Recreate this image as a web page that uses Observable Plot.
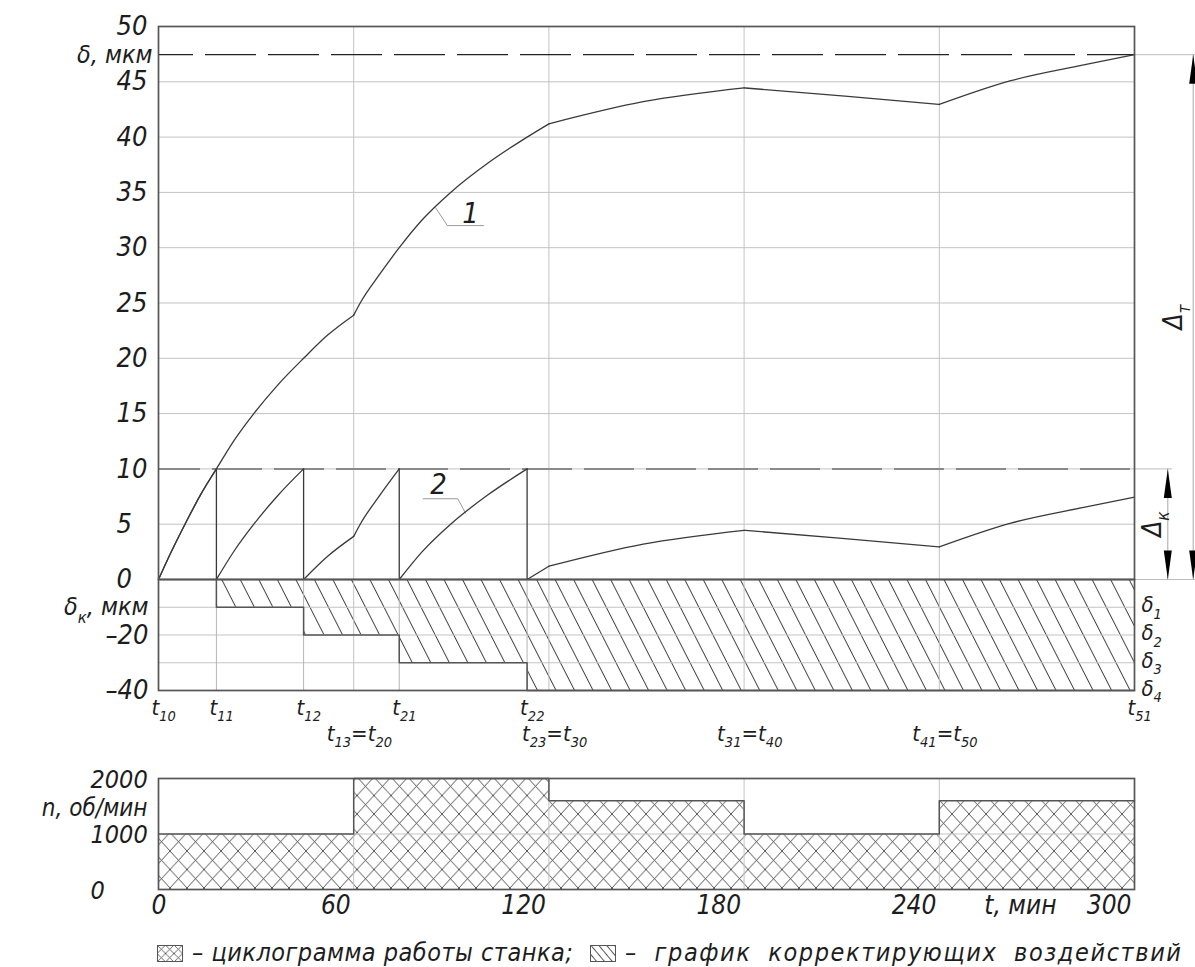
<!DOCTYPE html>
<html><head><meta charset="utf-8">
<script src="https://cdn.jsdelivr.net/npm/d3@7"></script>
<script src="https://cdn.jsdelivr.net/npm/@observablehq/plot@0.6"></script>
<style>
body{margin:0;background:#fff}
#wrap{position:relative;width:1195px;height:967px;overflow:hidden;font-family:"DejaVu Sans Condensed","DejaVu Sans",sans-serif;font-style:italic;font-stretch:condensed;color:#1d1d1d}
.leg{position:absolute;top:940px;height:26px;line-height:26px;display:flex;align-items:center;font-size:25px;white-space:nowrap}
.leg svg{margin-right:9px;flex:none}
#leg1 span{letter-spacing:0.5px}
#leg2 span{letter-spacing:1.6px;word-spacing:8px}
</style></head>
<body><div id="wrap">
<svg width="0" height="0" style="position:absolute">
 <defs>
  <pattern id="hatch1" patternUnits="userSpaceOnUse" width="16.5" height="10" patternTransform="rotate(-27)">
   <line x1="0.5" y1="-1" x2="0.5" y2="11" stroke="#444" stroke-width="1"/>
  </pattern>
  <pattern id="cross1" patternUnits="userSpaceOnUse" width="17" height="18.5">
   <path d="M0,0L17,18.5M17,0L0,18.5M-2,-2L0,0M17,18.5L19,20.5" stroke="#444" stroke-width="0.9" fill="none"/>
  </pattern>
  <pattern id="hatchIcon" patternUnits="userSpaceOnUse" width="6" height="6" patternTransform="rotate(-40)">
   <line x1="0.5" y1="-1" x2="0.5" y2="7" stroke="#444" stroke-width="0.9"/>
  </pattern>
  <pattern id="crossIcon" patternUnits="userSpaceOnUse" width="8.5" height="8.5">
   <path d="M0,0L8.5,8.5M8.5,0L0,8.5" stroke="#444" stroke-width="0.8" fill="none"/>
  </pattern>
 </defs>
</svg>
</div>
<script>
// ---------- data ----------
const tEnd = 300;
const upperTicks = [0, 5, 10, 15, 20, 25, 30, 35, 40, 45, 50];
const gridT = [60, 120, 180, 240];
const deltaMax = 47.45;   // δ max (dashed line)
const deltaK = 10;        // correction threshold (dashed line)

// curve 1: total error δ(t), smooth pieces between the speed changes
const curve1T = [0, 4, 8.5, 13, 17.8, 23.3, 29.3, 36.7, 44.6, 52, 60,
                 60, 62, 68, 74, 81, 89.8, 101.5, 113.3, 120,
                 120, 149, 180,
                 180, 211, 240,
                 240, 262, 284, 300];
const curve1V = [0, 2.55, 5.2, 7.7, 10, 12.6, 15, 17.6, 20, 22.1, 23.9,
                 23.9, 25, 27.6, 30, 32.5, 35, 37.7, 40, 41.2,
                 41.2, 43.2, 44.45,
                 44.45, 43.7, 42.95,
                 42.95, 45.1, 46.5, 47.45];
const curve1Seg = [1,1,1,1,1,1,1,1,1,1,1, 2,2,2,2,2,2,2,2,2, 3,3,3, 4,4,4, 5,5,5,5];

// curve 2: error with corrections
const curve2T = [0, 4, 8.5, 13, 17.8,
                 17.8, 23.3, 29.3, 36.7, 44.6,
                 44.6, 52, 60,
                 60, 62, 68, 74,
                 74, 81, 89.8, 101.5, 113.3,
                 113.3, 120,
                 120, 149, 180,
                 180, 211, 240,
                 240, 262, 284, 300];
const curve2V = [0, 2.55, 5.2, 7.7, 10,
                 0, 2.6, 5, 7.6, 10,
                 0, 2.1, 3.9,
                 3.9, 5, 7.6, 10,
                 0, 2.5, 5, 7.7, 10,
                 0, 1.2,
                 1.2, 3.2, 4.45,
                 4.45, 3.7, 2.95,
                 2.95, 5.1, 6.5, 7.45];
const curve2Seg = [1,1,1,1,1, 2,2,2,2,2, 3,3,3, 4,4,4,4, 5,5,5,5,5, 6,6, 7,7,7, 8,8,8, 9,9,9,9];
const resetT = [17.8, 44.6, 74, 113.3];

// curve labels with leaders
const leader1T = [85.2, 88.8, 99.9], leader1V = [33.6, 32.0, 32.0];
const leader2T = [94.4, 92.0, 81.4], leader2V = [6.0, 7.3, 7.3];
const curveLabels = ["1", "2"], curveLabelT = [95.9, 86.1], curveLabelV = [33.1, 8.6];

// corrections δк(t)
const corrT = [17.8, 17.8, 44.6, 74, 113.3, 300];
const corrV = [0, -10, -20, -30, -40, -40];
const corrGrid = [-10, -20, -30];
const corrTicks = [-20, -40];
const dLevels = [-10, -20, -30, -40];
const dLabels = ["δ_{1}", "δ_{2}", "δ_{3}", "δ_{4}"];

// moment labels
const tUpperT = [0, 17.8, 44.6, 74, 113.3, 300];
const tUpperLabels = ["t_{10}", "t_{11}", "t_{12}", "t_{21}", "t_{22}", "t_{51}"];
const tLowerT = [60, 120, 180, 240];
const tLowerLabels = ["t_{13}=t_{20}", "t_{23}=t_{30}", "t_{31}=t_{40}", "t_{41}=t_{50}"];

// spindle speed n(t)
const nStart = [0, 60, 120, 180, 240];
const nEnd = [60, 120, 180, 240, 300];
const nVal = [1000, 2000, 1600, 1000, 1600];
const nTicks = [0, 1000, 2000];
const timeTicks = [0, 60, 120, 180, 240, 300];

// texts
const yLabelUpper = "δ, мкм";
const yLabelCorr = "δ_{к}, мкм";
const yLabelN = "n, об/мин";
const xLabel = "t, мин";
const dimT = "Δ_{т}", dimK = "Δ_{к}";
const legend1 = "– циклограмма работы станка;";
const legend2 = "– график корректирующих воздействий";

// ---------- helpers ----------
const W = 1195, H = 967;
const FONT = '"DejaVu Sans Condensed","DejaVu Sans",sans-serif';
const GRID = "#c3c3c3", LINE = "#3a3a3a", FRAME = "#555", TXT = "#1d1d1d";
const sty = () => ({position: "absolute", left: "0px", top: "0px", background: "transparent",
  overflow: "visible", fontFamily: FONT, fontStyle: "italic", fontStretch: "condensed", color: TXT});
const pts = (T, V, S) => T.map((t, i) => ({t, v: V[i], s: S ? S[i] : 0}));
const arrowHead = {draw(ctx) { ctx.moveTo(0, 0); ctx.lineTo(4, 29); ctx.lineTo(-4, 29); ctx.closePath(); }};

function applySubs(svg) {
  const NS = "http://www.w3.org/2000/svg";
  svg.querySelectorAll("text").forEach(el => {
    if (el.children.length) return;
    const s = el.textContent;
    if (!s.includes("_{")) return;
    el.textContent = "";
    const ratio = 0.66, shift = 0.45;
    let last = 0, m, lowered = false;
    const re = /_\{([^}]*)\}/g;
    const add = (txt, sub) => {
      const ts = document.createElementNS(NS, "tspan");
      ts.textContent = txt;
      if (sub) { ts.setAttribute("style", `font-size:${ratio * 100}%`); ts.setAttribute("dy", shift + "em"); }
      else if (lowered) { ts.setAttribute("dy", (-shift * ratio) + "em"); }
      el.appendChild(ts);
      lowered = sub;
    };
    while ((m = re.exec(s))) {
      if (m.index > last) add(s.slice(last, m.index), false);
      add(m[1], true);
      last = re.lastIndex;
    }
    if (last < s.length) add(s.slice(last), false);
  });
  return svg;
}

// ---------- chart A: δ(t) ----------
const chartA = Plot.plot({
  width: W, height: H, marginLeft: 158, marginRight: 61, marginTop: 26, marginBottom: H - 579,
  x: {domain: [0, tEnd], axis: null},
  y: {domain: [0, 50], axis: null},
  style: sty(),
  marks: [
    Plot.gridY(upperTicks, {stroke: GRID, strokeOpacity: 1}),
    Plot.gridX(gridT, {stroke: GRID, strokeOpacity: 1}),
    Plot.ruleY([deltaK], {stroke: "#8a8a8a", strokeWidth: 2, strokeDasharray: "50 12", strokeDashoffset: 8}),
    Plot.ruleY([deltaMax], {stroke: "#222", strokeWidth: 1.3, strokeDasharray: "51 12", strokeDashoffset: 16}),
    Plot.ruleY([deltaMax, 0], {x1: tEnd, x2: tEnd, insetRight: -61, stroke: "#bdbdbd"}),
    Plot.ruleY([deltaK], {x1: tEnd, x2: tEnd, insetRight: -38, stroke: "#bdbdbd"}),
    Plot.ruleX([tEnd], {y1: 0, y2: deltaMax, dx: 58.7, stroke: "#a8a8a8"}),
    Plot.ruleX([tEnd], {y1: 0, y2: deltaK, dx: 33.3, stroke: "#a8a8a8"}),
    Plot.dot([deltaMax], {x: () => tEnd, y: d => d, dx: 58.7, symbol: arrowHead, fill: "#000", stroke: "none"}),
    Plot.dot([0], {x: () => tEnd, y: d => d, dx: 58.7, rotate: 180, symbol: arrowHead, fill: "#000", stroke: "none"}),
    Plot.dot([deltaK], {x: () => tEnd, y: d => d, dx: 33.3, symbol: arrowHead, fill: "#000", stroke: "none"}),
    Plot.dot([0], {x: () => tEnd, y: d => d, dx: 33.3, rotate: 180, symbol: arrowHead, fill: "#000", stroke: "none"}),
    Plot.text([deltaMax / 2], {x: () => tEnd, y: d => d, dx: 39, rotate: -90, text: [dimT], fontSize: 26, fill: TXT}),
    Plot.text([deltaK / 2], {x: () => tEnd, y: d => d, dx: 18, rotate: -90, text: [dimK], fontSize: 26, fill: TXT}),
    Plot.line(pts(leader1T, leader1V), {x: "t", y: "v", stroke: "#999", strokeWidth: 1}),
    Plot.line(pts(leader2T, leader2V), {x: "t", y: "v", stroke: "#999", strokeWidth: 1}),
    Plot.text(curveLabels, {x: (d, i) => curveLabelT[i], y: (d, i) => curveLabelV[i], text: d => d, fontSize: 29, fill: TXT}),
    Plot.line(pts(curve1T, curve1V, curve1Seg), {x: "t", y: "v", z: "s", curve: "monotone-x", stroke: LINE, strokeWidth: 1.3}),
    Plot.line(pts(curve2T, curve2V, curve2Seg), {x: "t", y: "v", z: "s", curve: "monotone-x", stroke: LINE, strokeWidth: 1.3}),
    Plot.ruleX(resetT, {y1: 0, y2: deltaK, stroke: LINE, strokeWidth: 1.3}),
    Plot.frame({stroke: FRAME, strokeWidth: 1.7}),
    Plot.axisY(upperTicks, {tickSize: 0, tickPadding: 0, textAnchor: "start", dx: -42, fontSize: 27, label: null, fill: TXT}),
    Plot.text([deltaMax], {y: d => d, text: [yLabelUpper], frameAnchor: "left", textAnchor: "end", dx: -6, fontSize: 25, fill: TXT})
  ]
});

// ---------- chart B: δк(t) ----------
const chartB = Plot.plot({
  width: W, height: H, marginLeft: 158, marginRight: 61, marginTop: 579, marginBottom: H - 690,
  x: {domain: [0, tEnd], axis: null},
  y: {domain: [-40, 0], axis: null},
  style: sty(),
  marks: [
    Plot.areaY(pts(corrT, corrV), {x: "t", y1: 0, y2: "v", curve: "step-after", fill: "url(#hatch1)"}),
    Plot.gridY(corrGrid, {stroke: GRID, strokeOpacity: 1}),
    Plot.gridX(gridT, {stroke: GRID, strokeOpacity: 1}),
    Plot.ruleX(resetT, {stroke: "#b5b5b5"}),
    Plot.line(pts(corrT, corrV), {x: "t", y: "v", curve: "step-after", stroke: FRAME, strokeWidth: 1.5}),
    Plot.frame({stroke: FRAME, strokeWidth: 1.7}),
    Plot.axisY(corrTicks, {tickSize: 0, tickPadding: 10, tickFormat: d => "–" + Math.abs(d), fontSize: 27, label: null, fill: TXT}),
    Plot.text([-10], {y: d => d, text: [yLabelCorr], frameAnchor: "left", textAnchor: "end", dx: -10, fontSize: 25, fill: TXT}),
    Plot.text(dLevels, {y: d => d, text: dLabels, frameAnchor: "right", textAnchor: "start", dx: 7, dy: -2, fontSize: 22, fill: TXT}),
    Plot.text(tUpperT, {x: d => d, text: tUpperLabels, frameAnchor: "bottom", textAnchor: "start", dx: -7, dy: 24, fontSize: 22, fill: TXT}),
    Plot.text(tLowerT, {x: d => d, text: tLowerLabels, frameAnchor: "bottom", textAnchor: "start", dx: -27, dy: 50, fontSize: 22, fill: TXT})
  ]
});

// ---------- chart C: n(t) ----------
const nRows = nStart.map((s, i) => ({s, e: nEnd[i], n: nVal[i]}));
const nStep = [...nRows.map(r => ({t: r.s, v: r.n})), {t: nEnd[nEnd.length - 1], v: nVal[nVal.length - 1]}];
const chartC = Plot.plot({
  width: W, height: H, marginLeft: 158, marginRight: 61, marginTop: 778, marginBottom: H - 889,
  x: {domain: [0, tEnd], axis: null},
  y: {domain: [0, 2000], axis: null},
  style: sty(),
  marks: [
    Plot.rectY(nRows, {x1: "s", x2: "e", y: "n", fill: "url(#cross1)"}),
    Plot.gridY([1000], {stroke: GRID, strokeOpacity: 1}),
    Plot.gridX(gridT, {stroke: GRID, strokeOpacity: 1}),
    Plot.line(nStep, {x: "t", y: "v", curve: "step-after", stroke: FRAME, strokeWidth: 1.5}),
    Plot.frame({stroke: FRAME, strokeWidth: 1.7}),
    Plot.axisY(nTicks, {tickSize: 0, tickPadding: 0, textAnchor: "start", dx: -68, dy: 1, tickFormat: d => String(d), fontSize: 25, label: null, fill: TXT}),
    Plot.axisX(timeTicks.slice(0, 1), {tickSize: 0, tickPadding: 16, lineAnchor: "middle", textAnchor: "start", dx: -7, tickFormat: d => String(d), fontSize: 26, label: null, fill: TXT}),
    Plot.axisX(timeTicks.slice(1), {tickSize: 0, tickPadding: 16, lineAnchor: "middle", textAnchor: "end", dx: -3, tickFormat: d => String(d), fontSize: 26, label: null, fill: TXT}),
    Plot.text([xLabel], {frameAnchor: "bottom-right", text: d => d, textAnchor: "end", lineAnchor: "middle", dx: -78, dy: 16, fontSize: 26, fill: TXT}),
    Plot.text([yLabelN], {frameAnchor: "top-left", text: d => d, textAnchor: "end", lineAnchor: "middle", dx: -11, dy: 30, fontSize: 24, fill: TXT})
  ]
});

const wrap = document.getElementById("wrap");
[chartA, chartB, chartC].forEach(c => wrap.appendChild(applySubs(c)));

// ---------- legend ----------
function legendItem(id, left, pattern, label) {
  const d = document.createElement("div");
  d.className = "leg";
  d.id = id;
  d.style.left = left + "px";
  d.innerHTML = `<svg width="26" height="17"><rect x="0.5" y="0.5" width="25" height="16" fill="url(#${pattern})" stroke="#555" stroke-width="1"/></svg><span>${label}</span>`;
  wrap.appendChild(d);
}
legendItem("leg1", 157, "crossIcon", legend1);
legendItem("leg2", 590, "hatchIcon", legend2);
</script>
</body></html>
